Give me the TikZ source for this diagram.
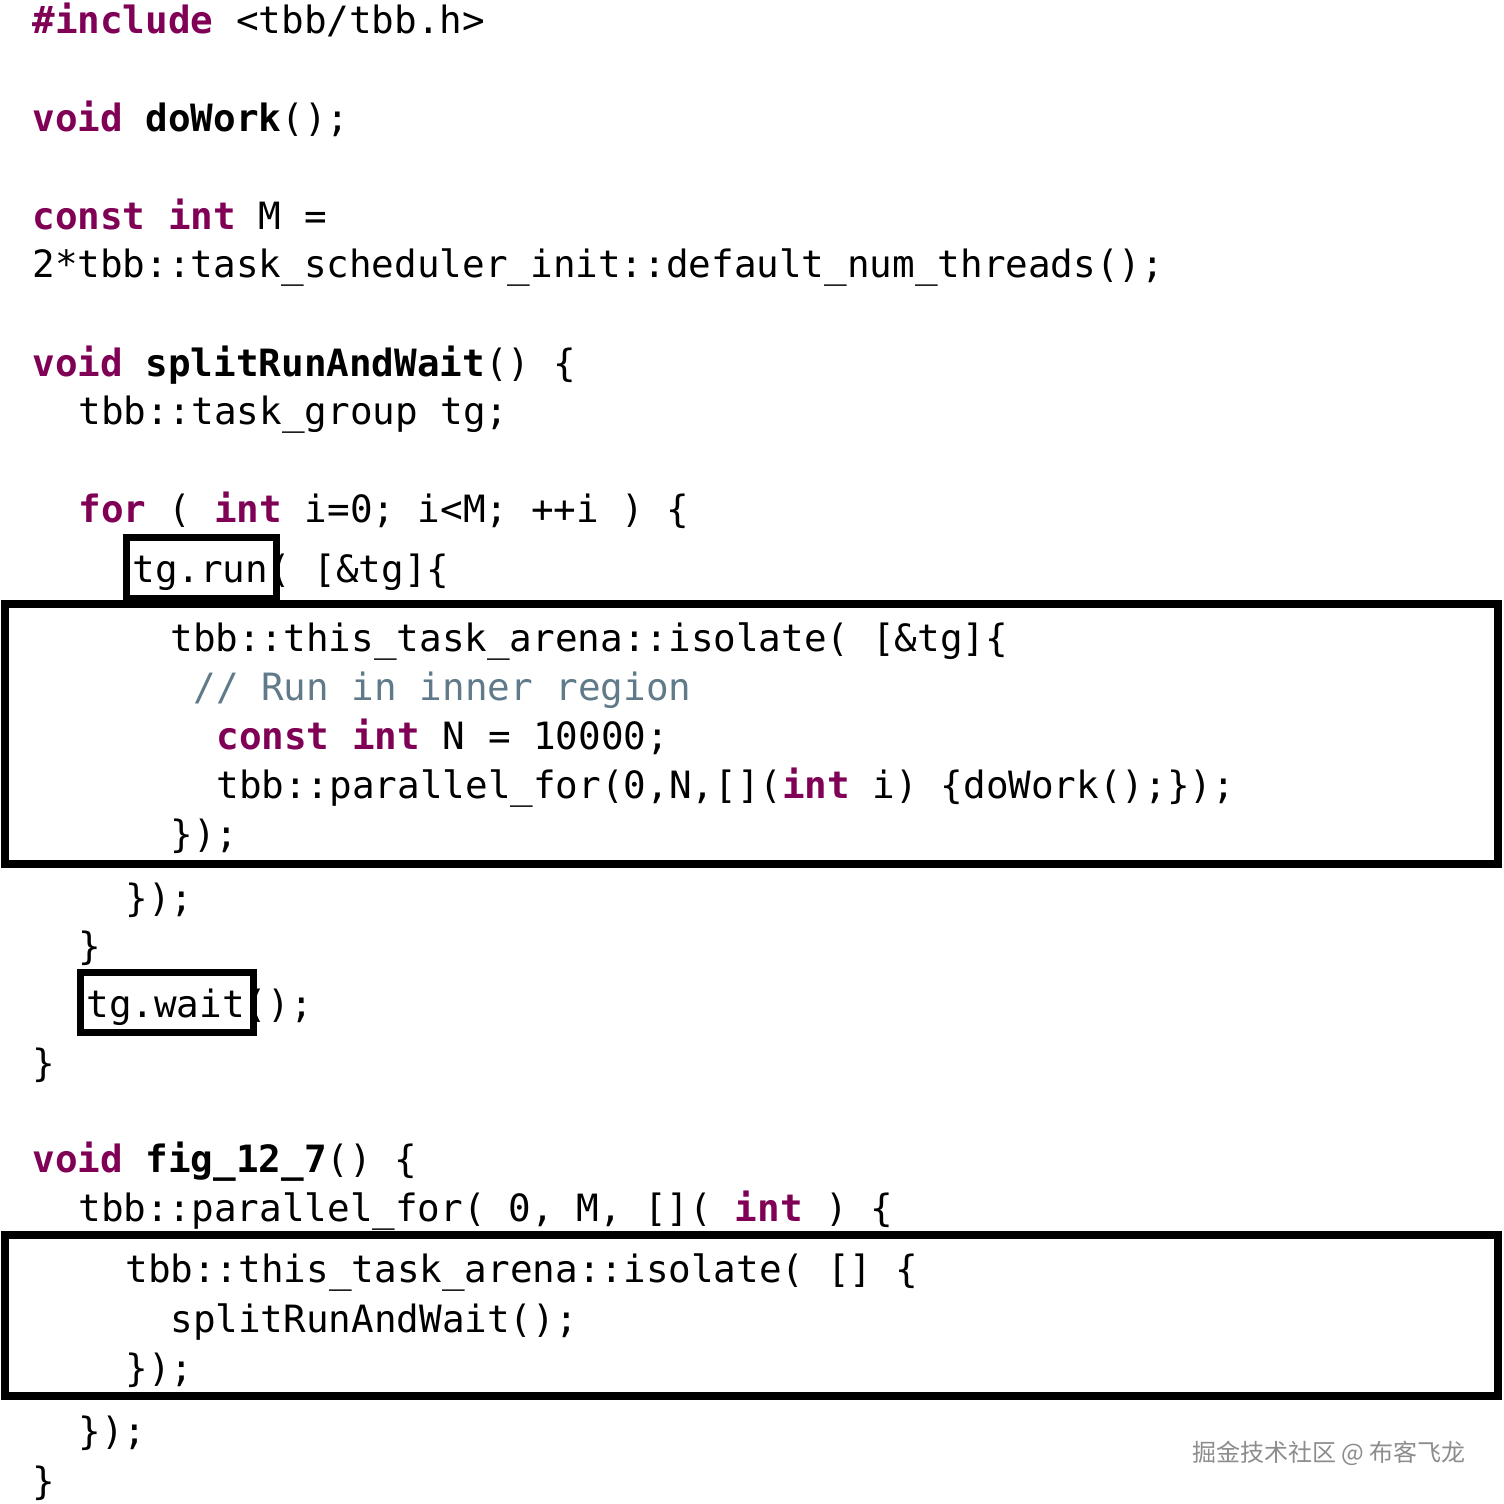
\documentclass[tikz,border=0pt]{standalone}
\usepackage{fontspec}
\setmonofont{DejaVu Sans Mono}
\newfontfamily\cjk{Noto Sans CJK SC}
\usetikzlibrary{positioning}
\definecolor{kwcol}{RGB}{127,0,85}
\definecolor{cmcol}{RGB}{96,122,138}
\newcommand{\kw}[1]{\textcolor{kwcol}{\bfseries #1}}
\newcommand{\fn}[1]{{\bfseries #1}}
\newcommand{\cm}[1]{\textcolor{cmcol}{#1}}
\tikzset{
  codeline/.style={anchor=base west, inner sep=0pt, font=\ttfamily\fontsize{18.8}{20}\selectfont},
  hlbox/.style={draw, line width=3.5pt},
  bigbox/.style={draw, line width=4pt}
}
\begin{document}
\begin{tikzpicture}[x=0.5pt,y=-0.5pt]
		\useasboundingbox (0,0) rectangle (1504,1504);

		\node[codeline] (l1) at (32,34) {\kw{\#include} <tbb/tbb.h>};
		\node[codeline] (l2) at (32,132) {\kw{void} \fn{doWork}();};
		\node[codeline] (l3) at (32,229) {\kw{const} \kw{int} M =};
		\node[codeline] (l4) at (32,277) {2*tbb::task\_scheduler\_init::default\_num\_threads();};
		\node[codeline] (l5) at (32,376) {\kw{void} \fn{splitRunAndWait}() \{};
		\node[codeline] (l6) at (78,424) {tbb::task\_group tg;};
		\node[codeline] (l7) at (78,522) {\kw{for} ( \kw{int} i=0; i<M; ++i ) \{};
		\node[codeline] (l8) at (132,582) {tg.run( [\&tg]\{};
		\node[codeline] (l9) at (170,651) {tbb::this\_task\_arena::isolate( [\&tg]\{};
		\node[codeline] (l10) at (193,700) {\cm{// Run in inner region}};
		\node[codeline] (l11) at (216,749) {\kw{const} \kw{int} N = 10000;};
		\node[codeline] (l12) at (216,798) {tbb::parallel\_for(0,N,[](\kw{int} i) \{doWork();\});};
		\node[codeline] (l13) at (170,847) {\});};
		\node[codeline] (l14) at (125,911) {\});};
		\node[codeline] (l15) at (78,959) {\}};
		\node[codeline] (l16) at (86,1017) {tg.wait();};
		\node[codeline] (l17) at (32,1076) {\}};
		\node[codeline] (l18) at (32,1172) {\kw{void} \fn{fig\_12\_7}() \{};
		\node[codeline] (l19) at (78,1221) {tbb::parallel\_for( 0, M, []( \kw{int} ) \{};
		\node[codeline] (l20) at (125,1282) {tbb::this\_task\_arena::isolate( [] \{};
		\node[codeline] (l21) at (170,1332) {splitRunAndWait();};
		\node[codeline] (l22) at (125,1381) {\});};
		\node[codeline] (l23) at (78,1444) {\});};
		\node[codeline] (l24) at (32,1494) {\}};

		\draw[hlbox] (126,537) rectangle (276,598);
		\draw[hlbox] (80,972) rectangle (253,1032);
		\draw[bigbox] (5,604) rectangle (1498,864);
		\draw[bigbox] (5,1235) rectangle (1498,1396);

		\node[anchor=east, inner sep=0pt, text=black!45, font=\cjk\fontsize{12}{13}\selectfont] (wm) at (1466,1453) {掘金技术社区 @ 布客飞龙};
\end{tikzpicture}
\end{document}
